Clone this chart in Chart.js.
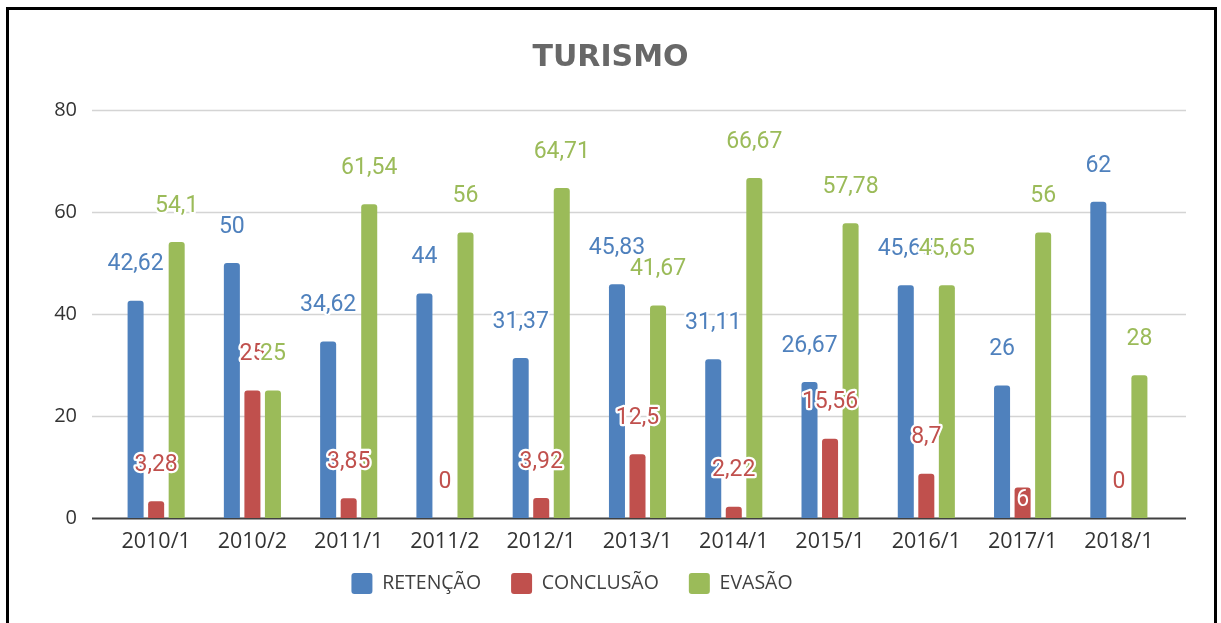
<!DOCTYPE html>
<html>
<head>
<meta charset="utf-8">
<script src="https://cdn.jsdelivr.net/npm/chart.js@4.4.0/dist/chart.umd.min.js"></script>
<style>
  body { margin: 0; background: #fff; overflow: hidden; }
  .frame {
    position: absolute; left: 6px; top: 7px; width: 1211px; height: 700px;
    border: 3px solid #000; box-sizing: border-box;
  }
  #turismo { position: absolute; left: 0; top: 0; }
</style>
</head>
<body>
<div class="frame"></div>
<canvas id="turismo" width="1221" height="623"></canvas>
<script>
const periodos = ["2010/1", "2010/2", "2011/1", "2011/2", "2012/1", "2013/1", "2014/1", "2015/1", "2016/1", "2017/1", "2018/1"];
const retencao = [42.62, 50, 34.62, 44, 31.37, 45.83, 31.11, 26.67, 45.65, 26, 62];
const conclusao = [3.28, 25, 3.85, 0, 3.92, 12.5, 2.22, 15.56, 8.7, 6, 0];
const evasao = [54.1, 25, 61.54, 56, 64.71, 41.67, 66.67, 57.78, 45.65, 56, 28];
const yTicks = [0, 20, 40, 60, 80];

const azul = "#4F81BD";
const vermelho = "#C0504D";
const verde = "#9BBB59";

// labels that sit inside their bar instead of above it (dataset -> indexes)
const rotulosDentro = { 1: [9] };

// title centred on the whole canvas, not on the plot area
const titulo = {
  id: "titulo",
  afterDraw(chart) {
    const { ctx } = chart;
    ctx.save();
    ctx.font = "bold 30px 'DejaVu Sans'";
    ctx.fillStyle = "#686868";
    ctx.textAlign = "center";
    ctx.textBaseline = "middle";
    ctx.fillText("TURISMO", chart.width / 2, 58);
    ctx.restore();
  },
};

// gridlines and base line run a little past the bars on both sides
const gradeLarga = {
  id: "gradeLarga",
  beforeDatasetsDraw(chart) {
    const { ctx, chartArea, scales } = chart;
    const x0 = chartArea.left - 16;
    const x1 = chartArea.right + 19;
    ctx.save();
    yTicks.forEach((t) => {
      const y = Math.round(scales.y.getPixelForValue(t)) + 0.5;
      ctx.beginPath();
      ctx.moveTo(x0, y);
      ctx.lineTo(x1, y);
      if (t === 0) {
        ctx.strokeStyle = "#404040";
        ctx.lineWidth = 2;
      } else {
        ctx.strokeStyle = "#d4d4d4";
        ctx.lineWidth = 1.6;
      }
      ctx.stroke();
    });
    ctx.restore();
  },
};

// value labels with a white halo, comma decimals
const rotulos = {
  id: "rotulos",
  afterDatasetsDraw(chart) {
    const { ctx } = chart;
    ctx.save();
    ctx.font = "23px Roboto";
    ctx.textAlign = "center";
    ctx.textBaseline = "middle";
    ctx.lineJoin = "round";
    chart.data.datasets.forEach((ds, i) => {
      const meta = chart.getDatasetMeta(i);
      meta.data.forEach((bar, j) => {
        const txt = String(ds.data[j]).replace(".", ",");
        const dentro = (rotulosDentro[i] || []).includes(j);
        const y = dentro ? bar.y + 13 : bar.y - 36;
        if (dentro) {
          ctx.fillStyle = "#fff";
          ctx.fillText(txt, bar.x, y);
          return;
        }
        ctx.strokeStyle = "#fff";
        ctx.lineWidth = 4.5;
        ctx.strokeText(txt, bar.x, y);
        ctx.fillStyle = ds.backgroundColor;
        ctx.fillText(txt, bar.x, y);
      });
    });
    ctx.restore();
  },
};

const barra = {
  borderRadius: 3,
  categoryPercentage: 0.64,
  barPercentage: 0.78,
};

new Chart(document.getElementById("turismo"), {
  type: "bar",
  data: {
    labels: periodos,
    datasets: [
      { label: "RETENÇÃO", data: retencao, backgroundColor: azul, ...barra },
      { label: "CONCLUSÃO", data: conclusao, backgroundColor: vermelho, ...barra },
      { label: "EVASÃO", data: evasao, backgroundColor: verde, ...barra },
    ],
  },
  options: {
    responsive: false,
    animation: false,
    layout: {
      padding: { top: 110, right: 54, bottom: 19, left: -23 },
    },
    scales: {
      x: {
        grid: { display: false, drawTicks: false },
        border: { display: false },
        ticks: {
          color: "#333",
          font: { family: "'Open Sans'", size: 21.5 },
          // mirrored so the labels are not clipped to the short axis box
          mirror: true,
          padding: -37,
          maxRotation: 0,
        },
        afterFit(s) { s.height = 25; },
      },
      y: {
        min: 0,
        max: 80,
        grid: { display: false, drawTicks: false },
        border: { display: false },
        ticks: {
          stepSize: 20,
          color: "#333",
          font: { family: "'Open Sans'", size: 20 },
          padding: 31,
        },
        afterFit(s) { s.width = 131; },
      },
    },
    plugins: {
      legend: {
        position: "bottom",
        labels: {
          color: "#404040",
          font: { family: "'Open Sans'", size: 19.5 },
          boxWidth: 21,
          boxHeight: 21,
          padding: 30,
          useBorderRadius: true,
          borderRadius: 3,
        },
      },
      tooltip: { enabled: false },
    },
  },
  plugins: [gradeLarga, rotulos, titulo],
});
</script>
</body>
</html>
